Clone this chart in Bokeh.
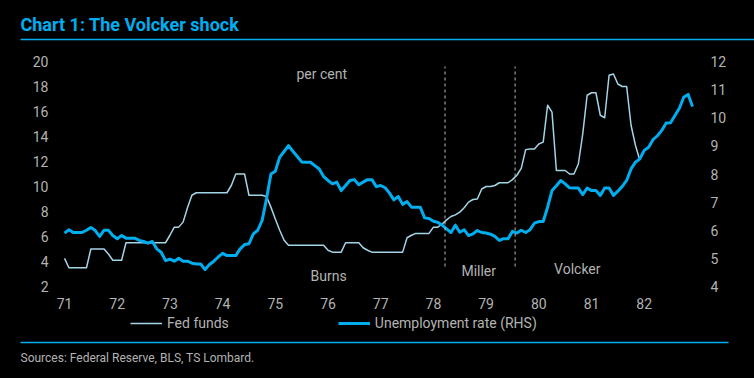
from bokeh.plotting import figure
from bokeh.models import Range1d, LinearAxis, FixedTicker, Legend, LegendItem
from bokeh.core.properties import value
from bokeh.embed import file_html
from bokeh.resources import INLINE

# ---------------- data (monthly, starting Jan 1971) ----------------
start_year = 1971
fed_funds = [
    4.25, 3.5, 3.5, 3.5, 3.5, 3.5, 5.0, 5.0, 5.0, 5.0, 4.6, 4.1,          # 1971
    4.1, 4.1, 5.5, 5.5, 5.5, 5.5, 5.5, 5.5, 5.5, 5.5, 5.5, 5.5,           # 1972
    6.1, 6.75, 6.75, 7.15, 8.3, 9.3, 9.5, 9.5, 9.5, 9.5, 9.5, 9.5,        # 1973
    9.5, 9.5, 10.1, 11.0, 11.0, 11.0, 9.3, 9.3, 9.3, 9.3, 9.2, 8.35,      # 1974
    7.4, 6.5, 5.7, 5.3, 5.3, 5.3, 5.3, 5.3, 5.3, 5.3, 5.3, 5.3,           # 1975
    4.9, 4.75, 4.75, 4.75, 5.5, 5.5, 5.5, 5.5, 5.1, 4.9, 4.75, 4.75,      # 1976
    4.75, 4.75, 4.75, 4.75, 4.75, 4.75, 5.9, 6.1, 6.25, 6.25, 6.25, 6.25, # 1977
    6.75, 6.75, 7.0, 7.33, 7.6, 7.73, 7.95, 8.3, 8.75, 8.96, 9.0, 9.8,    # 1978
    10.0, 10.0, 10.08, 10.3, 10.3, 10.3, 10.55, 10.9, 11.45, 12.95, 13.0, 13.0,  # 1979
    13.4, 13.55, 16.5, 15.95, 11.28, 11.28, 11.28, 11.0, 11.0, 11.8, 14.2, 17.3, # 1980
    17.5, 17.5, 15.7, 15.5, 18.9, 19.0, 18.2, 18.0, 18.0, 14.9, 13.3, 12.1,      # 1981
]
unemployment = [
    5.9, 6.02, 5.92, 5.92, 5.92, 6.0, 6.1, 5.99, 5.78, 6.0, 6.0, 5.81,    # 1971
    5.7, 5.81, 5.72, 5.72, 5.72, 5.64, 5.6, 5.54, 5.6, 5.34, 5.22, 4.92,  # 1972
    4.97, 4.9, 5.0, 4.9, 4.9, 4.83, 4.8, 4.8, 4.6, 4.78, 4.9, 5.05,       # 1973
    5.18, 5.1, 5.1, 5.1, 5.34, 5.49, 5.52, 5.87, 6.0, 6.35, 7.12, 8.0,    # 1974
    8.1, 8.6, 8.8, 9.01, 8.81, 8.62, 8.43, 8.42, 8.42, 8.3, 8.18, 7.91,   # 1975
    7.77, 7.65, 7.71, 7.41, 7.59, 7.77, 7.8, 7.62, 7.71, 7.8, 7.8, 7.55,  # 1976
    7.59, 7.51, 7.32, 7.08, 7.2, 6.92, 7.02, 6.82, 6.82, 6.82, 6.44, 6.42,  # 1977
    6.32, 6.28, 6.18, 6.05, 5.92, 6.18, 5.93, 6.02, 5.81, 5.87, 5.99, 5.92, # 1978
    5.9, 5.86, 5.78, 5.64, 5.7, 5.7, 5.96, 5.9, 6.0, 5.92, 6.02, 6.25,    # 1979
    6.31, 6.31, 6.82, 7.41, 7.58, 7.77, 7.65, 7.51, 7.5, 7.5, 7.27, 7.5,  # 1980
    7.41, 7.41, 7.24, 7.5, 7.5, 7.24, 7.39, 7.56, 7.77, 8.18, 8.42, 8.54, # 1981
    8.84, 8.95, 9.22, 9.36, 9.55, 9.81, 9.82, 10.08, 10.34, 10.73, 10.83, 10.4,  # 1982
]
year_ticks = list(range(1971, 1983))
year_labels = ["71", "72", "73", "74", "75", "76", "77", "78", "79", "80", "81", "82"]
left_ticks = [2, 4, 6, 8, 10, 12, 14, 16, 18, 20]
right_ticks = [4, 5, 6, 7, 8, 9, 10, 11, 12]
chair_changes = [1978.22, 1979.55]          # Miller, Volcker take office
chair_names = ["per cent", "Burns", "Miller", "Volcker"]
chair_label_x = [1975.88, 1976.01, 1978.86, 1980.73]
chair_label_y = [19.04, 2.88, 3.28, 3.44]
series_names = ["Fed funds", "Unemployment rate (RHS)"]

ff_x = [start_year + i / 12 for i in range(len(fed_funds))]
un_x = [start_year + i / 12 for i in range(len(unemployment))]

TXT = "#b3b3b3"
BLUE = "#00aeef"
FF_COL = "#a3d5e8"
FONT = "Roboto"
BG = "#000000"
W = 754

# ---------------- header ----------------
hdr = figure(width=W, height=45, x_range=Range1d(0, W), y_range=Range1d(45, 0),
             x_axis_type=None, y_axis_type=None, toolbar_location=None,
             output_backend="svg", min_border=0,
             background_fill_color=BG, border_fill_color=BG)
hdr.outline_line_color = None
hdr.text(x=[20], y=[24], text=["Chart 1: The Volcker shock"], text_font=value(FONT),
         text_font_style="bold", text_font_size="18px", text_color=BLUE,
         text_baseline="middle", text_align="left")
hdr.segment(x0=[20], y0=[39], x1=[W], y1=[39], line_color=BLUE, line_width=1.5)

# ---------------- main chart ----------------
p = figure(width=W, height=269, x_range=Range1d(1970.829, 1983.068),
           y_range=Range1d(1.52, 20.4), toolbar_location=None, output_backend="svg",
           background_fill_color=BG, border_fill_color=BG,
           min_border_left=55, min_border_right=54, min_border_top=11, min_border_bottom=22)
p.outline_line_color = None
p.grid.visible = False
p.extra_y_ranges = {"rhs": Range1d(3.7867, 12.178)}

p.line(ff_x, fed_funds, line_color=FF_COL, line_width=1.5, line_join="round")
p.line(un_x, unemployment, line_color=BLUE, line_width=3, line_join="round",
       y_range_name="rhs")

p.segment(x0=chair_changes, x1=chair_changes, y0=[3.6, 3.6], y1=[19.6, 19.6],
          line_color="#bbbbbb", line_width=1, line_dash="3 3")

p.text(x=chair_label_x, y=chair_label_y, text=chair_names, text_font=value(FONT),
       text_font_size="14px", text_color=TXT, text_align="center", text_baseline="middle")

def style_axis(ax, standoff):
    ax.axis_line_color = None
    ax.major_tick_line_color = None
    ax.minor_tick_line_color = None
    ax.major_tick_out = 0
    ax.major_tick_in = 0
    ax.major_label_text_color = TXT
    ax.major_label_text_font = FONT
    ax.major_label_text_font_size = "14px"
    ax.major_label_standoff = standoff

p.xaxis.ticker = FixedTicker(ticks=year_ticks)
p.xaxis.major_label_overrides = {y: l for y, l in zip(year_ticks, year_labels)}
style_axis(p.xaxis[0], 5)
p.yaxis.ticker = FixedTicker(ticks=left_ticks)
style_axis(p.yaxis[0], 7)

rax = LinearAxis(y_range_name="rhs", ticker=FixedTicker(ticks=right_ticks))
style_axis(rax, 10)
p.add_layout(rax, "right")

# ---------------- footer (legend, rule, source) ----------------
FH = 64
ftr = figure(width=W, height=FH, x_range=Range1d(0, W), y_range=Range1d(FH, 0),
             x_axis_type=None, y_axis_type=None, toolbar_location=None,
             output_backend="svg", min_border=0,
             background_fill_color=BG, border_fill_color=BG)
ftr.outline_line_color = None
# legend keys only (placed off-canvas, they draw nothing on the page)
k_ff = ftr.line(x=[-20, -10], y=[-20, -20], line_color=FF_COL, line_width=1.5)
k_un = ftr.line(x=[-20, -10], y=[-20, -20], line_color=BLUE, line_width=3)
legend = Legend(items=[LegendItem(label=series_names[0], renderers=[k_ff]),
                       LegendItem(label=series_names[1], renderers=[k_un])],
                orientation="horizontal", location=(130, 47), spacing=109,
                padding=0, margin=0, border_line_color=None, background_fill_alpha=0,
                label_text_color=TXT, label_text_font=FONT, label_text_font_size="14px",
                glyph_width=32, glyph_height=14, label_height=14, label_standoff=5)
ftr.add_layout(legend, "center")
ftr.segment(x0=[20], y0=[28], x1=[728], y1=[28], line_color=BLUE, line_width=1.5)
ftr.text(x=[20], y=[43], text=["Sources: Federal Reserve, BLS, TS Lombard."],
         text_font=value(FONT), text_font_size="12px", text_color=TXT,
         text_baseline="middle", text_align="left")

html = file_html([hdr, p, ftr], INLINE)
html = html.replace("<head>", "<head><style>html,body{background:#000;}</style>", 1)
open("out.html", "w").write(html)
